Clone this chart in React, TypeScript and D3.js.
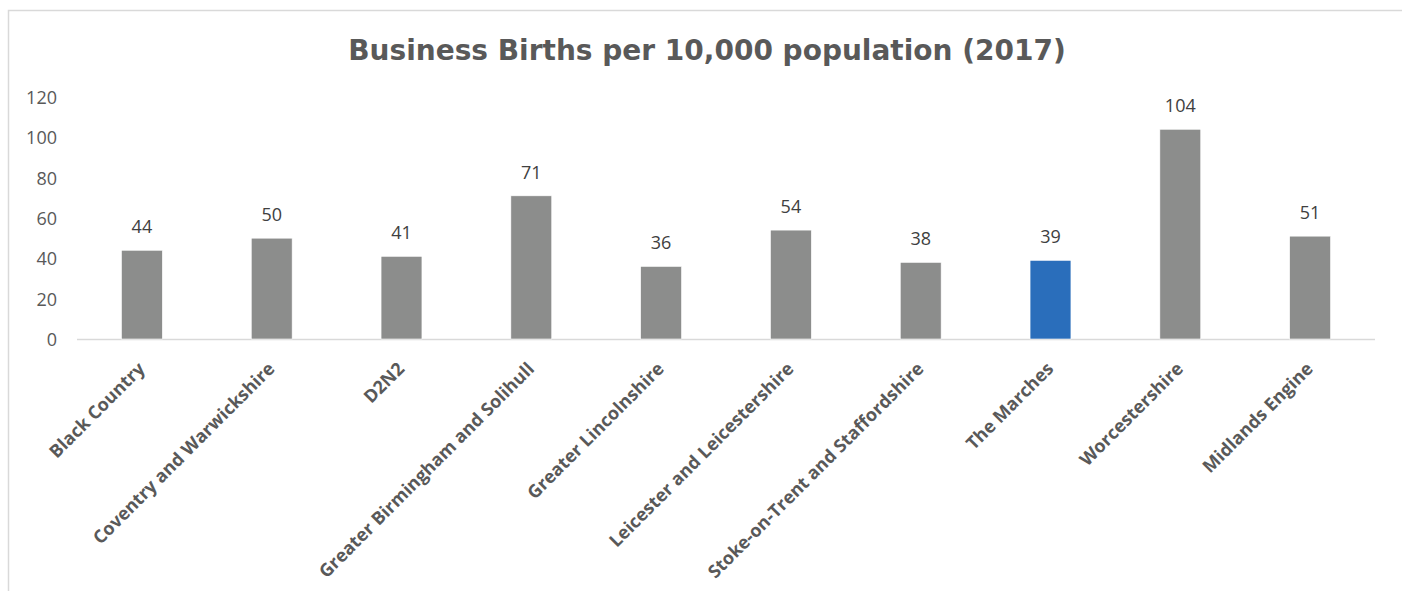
import React from "react";
import * as d3 from "d3";

const categories = [
  "Black Country",
  "Coventry and Warwickshire",
  "D2N2",
  "Greater Birmingham and Solihull",
  "Greater Lincolnshire",
  "Leicester and Leicestershire",
  "Stoke-on-Trent and Staffordshire",
  "The Marches",
  "Worcestershire",
  "Midlands Engine",
];
const values = [44, 50, 41, 71, 36, 54, 38, 39, 104, 51];
const highlighted = ["The Marches"];
const yTicks = [0, 20, 40, 60, 80, 100, 120];
const title = "Business Births per 10,000 population (2017)";

const W = 1402;
const H = 591;
const plot = { left: 77, right: 1375, top: 97, bottom: 339 };

export default function App() {
  const x = d3
    .scaleBand<string>()
    .domain(categories)
    .range([plot.left, plot.right])
    .paddingInner(0.685)
    .paddingOuter(0.3425);
  const y = d3.scaleLinear().domain([0, 120]).range([plot.bottom, plot.top]);
  const textColor = "#595959";
  return (
    <svg
      width={W}
      height={H}
      style={{ position: "absolute", left: 0, top: 0, display: "block" }}
    >
      <rect x={0} y={0} width={W} height={H} fill="#fff" />
      <rect
        x={8.5}
        y={10.5}
        width={W + 20}
        height={H + 20}
        fill="#fff"
        stroke="#d9d9d9"
        strokeWidth={1.5}
      />
      <text
        x={707}
        y={60}
        textAnchor="middle"
        fontFamily="'DejaVu Sans', Verdana, sans-serif"
        fontWeight="bold"
        fontSize={28}
        fill={textColor}
      >
        {title}
      </text>
      {yTicks.map((t) => (
        <text
          key={t}
          x={57}
          y={y(t)}
          dy="0.38em"
          textAnchor="end"
          fontFamily="'Open Sans', sans-serif"
          fontSize={18}
          fill={textColor}
        >
          {t}
        </text>
      ))}
      <line
        x1={plot.left}
        x2={plot.right}
        y1={plot.bottom + 0.5}
        y2={plot.bottom + 0.5}
        stroke="#d9d9d9"
        strokeWidth={1.5}
      />
      {categories.map((c, i) => {
        const bx = x(c)!;
        const v = values[i];
        const isHi = highlighted.includes(c);
        return (
          <g key={c}>
            <rect
              x={bx}
              y={y(v)}
              width={x.bandwidth()}
              height={y(0) - y(v)}
              fill={isHi ? "#2a6ebb" : "#8c8d8c"}
              stroke="#ffffff"
              strokeWidth={0.6}
            />
            <text
              x={bx + x.bandwidth() / 2}
              y={y(v) - 17}
              textAnchor="middle"
              fontFamily="'Open Sans', sans-serif"
              fontSize={18}
              fill="#404040"
            >
              {v}
            </text>
            <text
              transform={`translate(${bx + x.bandwidth() / 2 + 4},${370}) rotate(-45)`}
              textAnchor="end"
              fontFamily="'Open Sans', sans-serif"
              fontWeight={700}
              fontSize={18}
              fill={textColor}
            >
              {c}
            </text>
          </g>
        );
      })}
    </svg>
  );
}
